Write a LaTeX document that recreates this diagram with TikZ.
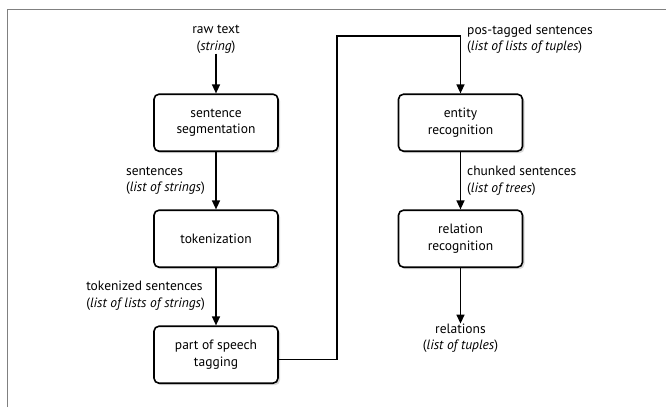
\documentclass[tikz,border=0pt]{standalone}
\usepackage{fontspec}
\setmainfont{PT Sans}
\usetikzlibrary{positioning, arrows.meta, shadows}

\begin{document}
\begin{tikzpicture}[x=1pt, y=-1pt,
        stepbox/.style={draw, line width=1.6pt, rounded corners=5pt, fill=white,
                        minimum width=124pt, minimum height=57pt, align=center,
                        font=\fontsize{13.5}{16.5}\selectfont,
                        drop shadow={shadow xshift=2pt, shadow yshift=-2pt, opacity=0.3}},
        dlabel/.style={align=center, inner sep=0pt, font=\fontsize{13.5}{16.5}\selectfont},
        carrow/.style={-{Triangle[width=8pt,length=9pt]}, line width=1.4pt}]
        \useasboundingbox (0,0) rectangle (666,407);
        \draw[gray, line width=1pt] (7.5,407) -- (7.5,9.5) -- (666,9.5);
        \draw (216,122.7) node[stepbox] (seg) {sentence\\segmentation}
              (216,238.7) node[stepbox] (tok) {tokenization}
              (216,354.7) node[stepbox] (pos) {part of speech\\tagging}
              (460.5,122.7) node[stepbox] (ent) {entity\\recognition}
              (460.5,238.7) node[stepbox] (rel) {relation\\recognition};
        \draw (216,39.5) node[dlabel] (raw) {raw text\\(\textit{string})}
              (205,181) node[dlabel, anchor=east, align=left] (sents) {sentences\\(\textit{list of strings})}
              (205,295.5) node[dlabel, anchor=east, align=left] (toks) {tokenized sentences\\(\textit{list of lists of strings})}
              (467,39.5) node[dlabel, anchor=west, align=left] (tags) {pos-tagged sentences\\(\textit{list of lists of tuples})}
              (467,181) node[dlabel, anchor=west, align=left] (chunks) {chunked sentences\\(\textit{list of trees})}
              (460.5,338.3) node[dlabel] (rels) {relations\\(\textit{list of tuples})};
        \coordinate (turn) at (337,36);
        \draw[carrow] (raw.south)--(seg.north);
        \draw[carrow] (seg.south)--(tok.north);
        \draw[carrow] (tok.south)--(pos.north);
        \draw[carrow] ([yshift=-5pt]pos.east) -| (turn) -| (ent.north);
        \draw[carrow] (ent.south)--(rel.north);
        \draw[carrow] (rel.south)--(rels.north);
\end{tikzpicture}
\end{document}
